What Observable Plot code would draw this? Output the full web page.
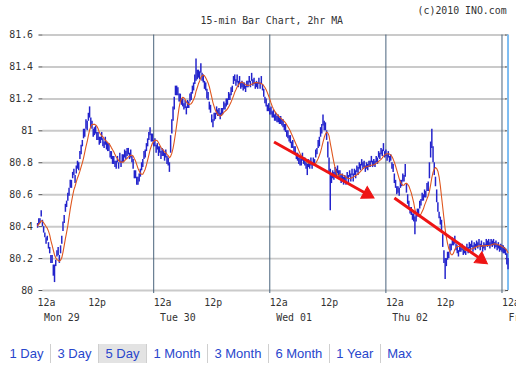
<!DOCTYPE html>
<html><head><meta charset="utf-8">
<script src="https://cdn.jsdelivr.net/npm/d3@7"></script>
<script src="https://cdn.jsdelivr.net/npm/@observablehq/plot@0.6"></script>
<style>
body{margin:0;background:#fff;}
#wrap{position:relative;width:523px;height:373px;overflow:hidden;background:#fff;}
#chart{position:absolute;left:0;top:0;width:516px;height:335px;overflow:hidden;}
#nav{position:absolute;left:3px;top:344px;display:flex;font-family:"Liberation Sans",Arial,sans-serif;font-size:13px;line-height:19px;color:#2846cc;white-space:nowrap;}
#nav span{padding:0 6.5px;border-left:1px solid #cfcfcf;}
#nav span:first-child{border-left:none;}
#nav span.sel{background:#e3e3e3;}
</style>
</head><body>
<div id="wrap"><div id="chart"></div><div id="nav"></div></div>
<script>
// 15-minute bars from Mon 29 00:00 onward (high / low)
const high = [
80.42,80.45,80.45,80.50,80.44,80.40,80.36,80.33,80.34,80.30,80.27,80.22,
80.22,80.16,80.16,80.19,80.25,80.27,80.22,80.28,80.34,80.43,80.47,80.54,
80.56,80.61,80.64,80.69,80.69,80.74,80.76,80.72,80.78,80.81,80.80,80.87,
80.91,80.94,81.01,81.01,81.07,81.06,81.11,81.15,81.08,81.06,81.01,81.02,
81.03,80.99,80.99,80.96,80.96,80.99,80.95,80.93,80.96,80.93,80.92,80.92,
80.87,80.87,80.84,80.84,80.81,80.81,80.84,80.80,80.86,80.81,80.85,80.85,
80.88,80.87,80.89,80.89,80.86,80.88,80.84,80.82,80.75,80.75,80.71,80.71,
80.73,80.76,80.80,80.82,80.87,80.88,80.92,80.95,80.99,81.02,80.98,80.98,
80.94,80.95,80.91,80.92,80.90,80.90,80.87,80.89,80.88,80.86,80.88,80.84,
80.83,80.80,80.97,81.07,81.15,81.21,81.28,81.28,81.27,81.23,81.23,81.20,
81.20,81.17,81.19,81.15,81.19,81.18,81.23,81.24,81.28,81.30,81.35,81.45,
81.38,81.38,81.37,81.42,81.36,81.35,81.31,81.30,81.26,81.24,81.18,81.16,
81.10,81.07,81.11,81.11,81.15,81.13,81.14,81.11,81.14,81.14,81.18,81.17,
81.20,81.20,81.24,81.23,81.27,81.28,81.34,81.35,81.32,81.35,81.31,81.34,
81.30,81.31,81.30,81.30,81.28,81.31,81.31,81.34,81.31,81.36,81.32,81.33,
81.30,81.31,81.30,81.33,81.30,81.34,81.29,81.26,81.21,81.20,81.16,81.17,
81.14,81.15,81.12,81.13,81.10,81.11,81.09,81.10,81.08,81.09,81.07,81.07,
81.04,81.04,81.00,81.00,80.97,80.97,80.93,80.94,80.90,80.90,80.86,80.86,
80.83,80.83,80.82,80.86,80.83,80.83,80.80,80.79,80.82,80.80,80.83,80.80,
80.83,80.82,80.88,80.89,80.94,80.96,81.02,81.04,81.10,81.06,81.05,81.00,
80.93,80.83,80.76,80.72,80.75,80.74,80.77,80.76,80.78,80.75,80.75,80.72,
80.73,80.71,80.72,80.71,80.74,80.72,80.75,80.73,80.76,80.73,80.76,80.75,
80.78,80.77,80.80,80.79,80.82,80.80,80.81,80.78,80.80,80.79,80.81,80.81,
80.84,80.81,80.82,80.81,80.84,80.83,80.87,80.86,80.89,80.88,80.92,80.87,
80.88,80.85,80.87,80.84,80.85,80.80,80.79,80.73,80.69,80.65,80.65,80.64,
80.69,80.69,80.73,80.72,80.79,80.67,80.60,80.56,80.52,80.52,80.48,80.48,
80.46,80.47,80.51,80.51,80.56,80.57,80.61,80.60,80.63,80.62,80.67,80.68,
80.80,80.93,81.01,80.90,80.80,80.71,80.63,80.55,80.49,80.46,80.44,80.35,
80.25,80.20,80.20,80.24,80.24,80.29,80.29,80.33,80.32,80.34,80.29,80.28,
80.25,80.28,80.28,80.29,80.26,80.27,80.26,80.29,80.27,80.30,80.29,80.31,
80.28,80.30,80.29,80.31,80.30,80.32,80.29,80.31,80.28,80.30,80.29,80.32,
80.31,80.32,80.30,80.32,80.31,80.32,80.30,80.31,80.29,80.30,80.28,80.29,
80.28,80.28,80.27,80.26,80.23,80.20
];
const low = [
80.39,80.41,80.42,80.46,80.40,80.36,80.33,80.29,80.31,80.26,80.23,80.17,
80.17,80.09,80.05,80.15,80.21,80.22,80.17,80.23,80.29,80.37,80.42,80.49,
80.52,80.56,80.59,80.64,80.64,80.70,80.72,80.67,80.73,80.76,80.75,80.82,
80.85,80.90,80.95,80.96,81.01,81.00,81.06,81.08,81.02,81.01,80.96,80.97,
80.98,80.94,80.94,80.91,80.92,80.94,80.90,80.89,80.91,80.88,80.87,80.87,
80.83,80.82,80.79,80.79,80.77,80.76,80.80,80.76,80.80,80.77,80.80,80.80,
80.83,80.82,80.84,80.85,80.82,80.83,80.80,80.76,80.70,80.70,80.66,80.66,
80.68,80.71,80.75,80.77,80.82,80.83,80.87,80.90,80.94,80.97,80.93,80.93,
80.90,80.90,80.86,80.88,80.84,80.86,80.82,80.84,80.84,80.81,80.83,80.79,
80.78,80.74,80.86,80.98,81.06,81.13,81.22,81.22,81.22,81.18,81.18,81.16,
81.15,81.13,81.14,81.10,81.14,81.14,81.18,81.19,81.23,81.25,81.29,81.31,
81.32,81.33,81.32,81.36,81.31,81.30,81.26,81.25,81.20,81.19,81.13,81.11,
81.05,81.02,81.06,81.07,81.10,81.09,81.09,81.07,81.09,81.10,81.13,81.13,
81.15,81.16,81.19,81.19,81.22,81.24,81.29,81.31,81.28,81.30,81.27,81.29,
81.26,81.27,81.25,81.26,81.24,81.27,81.27,81.30,81.27,81.31,81.28,81.29,
81.26,81.27,81.26,81.29,81.26,81.29,81.25,81.21,81.17,81.15,81.12,81.12,
81.10,81.10,81.08,81.08,81.06,81.06,81.05,81.05,81.04,81.04,81.03,81.02,
81.00,80.99,80.96,80.95,80.93,80.92,80.89,80.89,80.86,80.85,80.82,80.81,
80.79,80.78,80.78,80.81,80.79,80.78,80.76,80.72,80.77,80.76,80.78,80.76,
80.79,80.78,80.83,80.85,80.89,80.90,80.96,80.98,81.03,81.00,81.00,80.94,
80.83,80.73,80.50,80.67,80.70,80.69,80.72,80.71,80.73,80.70,80.70,80.67,
80.68,80.66,80.68,80.66,80.70,80.67,80.71,80.68,80.72,80.68,80.72,80.70,
80.74,80.72,80.76,80.75,80.78,80.76,80.77,80.74,80.76,80.75,80.77,80.77,
80.80,80.77,80.78,80.77,80.80,80.79,80.83,80.82,80.85,80.84,80.87,80.83,
80.84,80.81,80.83,80.80,80.81,80.76,80.74,80.67,80.64,80.60,80.61,80.59,
80.64,80.65,80.68,80.68,80.71,80.61,80.54,80.51,80.48,80.47,80.44,80.43,
80.35,80.43,80.46,80.47,80.51,80.53,80.56,80.56,80.58,80.58,80.62,80.62,
80.70,80.83,80.89,80.80,80.72,80.65,80.55,80.49,80.45,80.41,80.37,80.27,
80.17,80.07,80.15,80.19,80.20,80.24,80.25,80.28,80.28,80.29,80.25,80.23,
80.21,80.24,80.24,80.25,80.22,80.23,80.22,80.25,80.23,80.26,80.25,80.27,
80.24,80.26,80.25,80.27,80.26,80.28,80.25,80.27,80.24,80.26,80.25,80.28,
80.27,80.28,80.26,80.28,80.27,80.28,80.26,80.27,80.25,80.26,80.24,80.25,
80.24,80.23,80.23,80.22,80.16,80.13
];
const barMinutes = 15;
const maBars = 8; // 2hr moving average of 15-min bars
const yTicks = [80, 80.2, 80.4, 80.6, 80.8, 81, 81.2, 81.4, 81.6];
const dayStartHours = [0, 24, 48, 72, 96];
const dayNames = ["Mon 29", "Tue 30", "Wed 01", "Thu 02", "Fri 03"];
const noonHours = [12, 36, 60, 84];
const trendArrows = [
  {h1: 48.88, p1: 80.93, h2: 68.17, p2: 80.603},
  {h1: 73.76, p1: 80.58, h2: 91.70, p2: 80.195}
];
const navItems = ["1 Day", "3 Day", "5 Day", "1 Month", "3 Month", "6 Month", "1 Year", "Max"];
const selectedNav = "5 Day";
const titleText = "15-min Bar Chart, 2hr MA";
const creditText = "(c)2010 INO.com";

const bars = high.map((hi, i) => ({h: i * barMinutes / 60, hi, lo: low[i], mid: (hi + low[i]) / 2}));
const lastHour = bars[bars.length - 1].h;

const xDomain = [0, 97], xRange = [37.6, 513.2];
const yDomain = [80, 81.6], yRange = [294, 35];
const xs = d3.scaleLinear(xDomain, xRange), ys = d3.scaleLinear(yDomain, yRange);
const headRot = d => Math.atan2(ys(d.p2) - ys(d.p1), xs(d.h2) - xs(d.h1)) * 180 / Math.PI + 90;

const blue = "#2323cc", orange = "#df561e", red = "#ee1414";

const chart = Plot.plot({
  width: 523, height: 335,
  marginTop: 35, marginBottom: 41, marginLeft: 43, marginRight: 10,
  style: {fontFamily: "'DejaVu Sans Mono', monospace", fontSize: "10px", color: "#333", background: "#fff", overflow: "visible"},
  x: {domain: xDomain, range: xRange, axis: null},
  y: {domain: yDomain, range: yRange, label: null},
  marks: [
    Plot.gridY({ticks: yTicks, stroke: "#cacaca", strokeOpacity: 1, strokeWidth: 2}),
    Plot.axisY({ticks: yTicks, tickSize: 4, tickPadding: 6, label: null, stroke: "#444", tickFormat: d => String(d)}),
    Plot.axisY({ticks: yTicks, anchor: "right", tickSize: 3, label: null, stroke: "#444", tickFormat: () => "", dx: -2}),
    Plot.ruleX(dayStartHours.slice(1), {x: d => d, stroke: "#46617a", strokeWidth: 1, insetBottom: -3}),
    Plot.ruleX([lastHour], {x: d => d, stroke: "#7cbcf2", strokeWidth: 2}),
    Plot.ruleX(bars, {x: "h", y1: "lo", y2: "hi", stroke: blue, strokeWidth: 1.5}),
    Plot.lineY(bars, Plot.windowY({k: maBars, anchor: "end", reduce: "mean"}, {x: "h", y: "mid", stroke: orange, strokeWidth: 1.1})),
    Plot.link(trendArrows, {x1: "h1", y1: "p1", x2: "h2", y2: "p2", stroke: red, strokeWidth: 3}),
    Plot.dot(trendArrows, {x: "h2", y: "p2", symbol: "triangle", r: 5, fill: red, stroke: red, strokeWidth: 1, rotate: headRot, ariaLabel: "arrowhead"}),
    Plot.text([titleText], {frameAnchor: "top", dy: -18.5, dx: -3, text: d => d, fill: "#333"}),
    Plot.text([creditText], {frameAnchor: "top-right", textAnchor: "end", dy: -28, text: d => d, fill: "#333"}),
    Plot.text(dayStartHours, {x: d => d, text: () => "12a", frameAnchor: "bottom", textAnchor: "start", dy: 15.5, fill: "#333"}),
    Plot.text(noonHours, {x: d => d, text: () => "12p", frameAnchor: "bottom", dx: 1.5, dy: 15.5, fill: "#333"}),
    Plot.text(dayStartHours, {x: d => d, text: (d, i) => dayNames[i], frameAnchor: "bottom", textAnchor: "start", dx: 6.5, dy: 30.5, fill: "#333"})
  ]
});
const heads = chart.querySelector('g[aria-label="arrowhead"]');
if (heads) heads.style.filter = "drop-shadow(3px 4px 2px rgba(0,0,0,0.55))";
document.getElementById("chart").append(chart);

const nav = document.getElementById("nav");
for (const t of navItems) {
  const s = document.createElement("span");
  s.textContent = t;
  if (t === selectedNav) s.className = "sel";
  nav.append(s);
}
</script>
</body></html>
